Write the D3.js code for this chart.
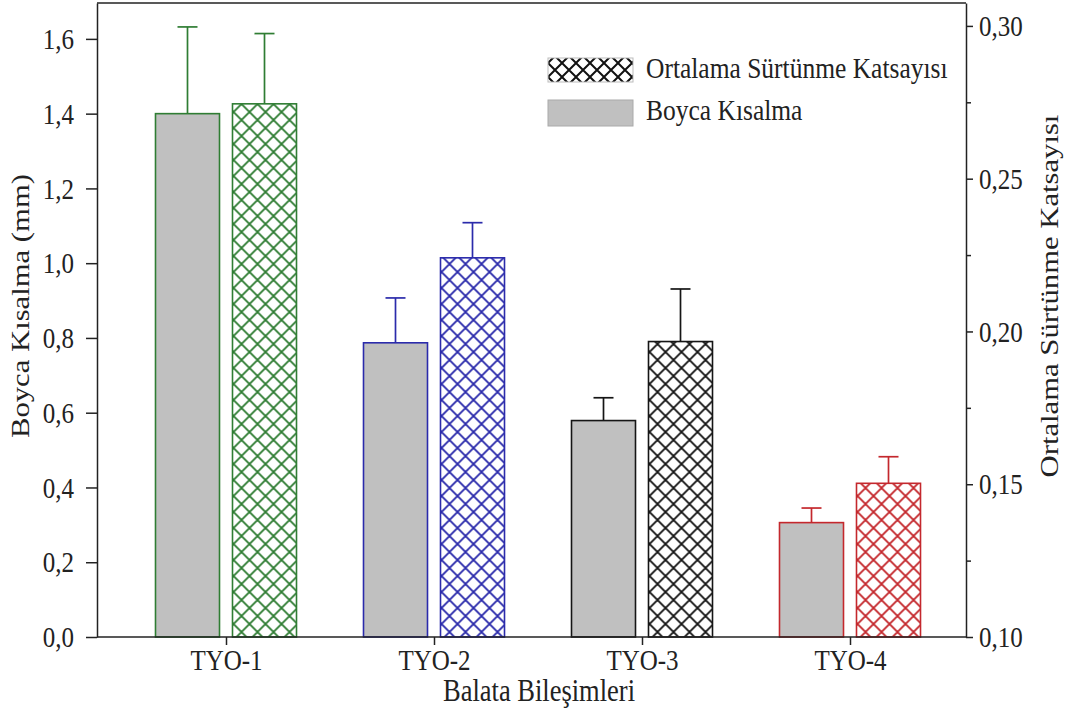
<!DOCTYPE html>
<html><head><meta charset="utf-8">
<script src="https://cdn.jsdelivr.net/npm/d3@7"></script>
<style>body{margin:0;background:#fff}svg{display:block}text{font-family:"Liberation Serif","Times New Roman",serif;fill:#222}</style>
</head><body><svg id="c" width="1067" height="716"></svg>
<script>
const categories = ["TYO-1","TYO-2","TYO-3","TYO-4"];
const shrinkage = [1.40, 0.787, 0.579, 0.306];
const shrinkageErr = [0.232, 0.12, 0.061, 0.039];
const friction = [0.2745, 0.2241, 0.1967, 0.1503];
const frictionErr = [0.023, 0.0115, 0.0172, 0.0087];
const colors = ["#2f7d33","#2b2bab","#151515","#c4282d"];
const leftTicks = [0,0.2,0.4,0.6,0.8,1.0,1.2,1.4,1.6];
const rightTicks = [0.10,0.15,0.20,0.25,0.30];
const rightMinor = [0.125,0.175,0.225,0.275];
const legendLabels = ["Ortalama Sürtünme Katsayısı","Boyca Kısalma"];

const W=1067,H=716,m={l:97,r:101,t:3,b:79};
const iw=W-m.l-m.r, ih=H-m.t-m.b;
const S=1.18; // vertical stretch of the original picture's lettering
const svg=d3.select("#c");
const defs=svg.append("defs");
const g=svg.append("g").attr("transform",`translate(${m.l},${m.t})`);

const x=d3.scalePoint().domain(categories).range([129,753]);
const yL=d3.scaleLinear().domain([0,1.696]).range([ih,0]);
const yR=d3.scaleLinear().domain([0.10,0.3075]).range([ih,0]);
const comma=f=>d=>d3.format(f)(d).replace(".",",");
const bw=64, gap=6.5, capW=20;

function hatch(id,color,period,ox,oy){
  const p=defs.append("pattern").attr("id",id).attr("patternUnits","userSpaceOnUse")
    .attr("width",period).attr("height",period).attr("x",ox).attr("y",oy);
  p.append("rect").attr("width",period).attr("height",period).attr("fill","#fff");
  p.append("path").attr("d",`M0,0L${period},${period}M${period},0L0,${period}`)
    .attr("stroke",color).attr("stroke-width",1.9).attr("fill","none");
}

categories.forEach((c,i)=>{
  const cx=x(c), col=colors[i];
  const gx=cx-gap-bw, gy=yL(shrinkage[i]);
  const eTop=yL(shrinkage[i]+shrinkageErr[i]);
  g.append("line").attr("x1",gx+bw/2).attr("x2",gx+bw/2).attr("y1",gy).attr("y2",eTop).attr("stroke",col).attr("stroke-width",1.7);
  g.append("line").attr("x1",gx+bw/2-capW/2).attr("x2",gx+bw/2+capW/2).attr("y1",eTop).attr("y2",eTop).attr("stroke",col).attr("stroke-width",1.7);
  g.append("rect").attr("x",gx).attr("y",gy).attr("width",bw).attr("height",ih-gy)
    .attr("fill","#c0c0c0").attr("stroke",col).attr("stroke-width",1.6);
  const hx=cx+gap, hy=yR(friction[i]);
  const hTop=yR(friction[i]+frictionErr[i]);
  hatch("h"+i,col,16,m.l+hx,m.t+ih);
  g.append("line").attr("x1",hx+bw/2).attr("x2",hx+bw/2).attr("y1",hy).attr("y2",hTop).attr("stroke",col).attr("stroke-width",1.7);
  g.append("line").attr("x1",hx+bw/2-capW/2).attr("x2",hx+bw/2+capW/2).attr("y1",hTop).attr("y2",hTop).attr("stroke",col).attr("stroke-width",1.7);
  g.append("rect").attr("x",hx).attr("y",hy).attr("width",bw).attr("height",ih-hy)
    .attr("fill",`url(#h${i})`).attr("stroke",col).attr("stroke-width",1.6);
});

const ax=(sel)=>{sel.selectAll("path,line").attr("stroke","#222").attr("stroke-width",1.5);
  sel.selectAll("text").attr("font-size",25).attr("fill","#222").attr("font-family","Liberation Serif");};
g.append("g").call(d3.axisLeft(yL).tickValues(leftTicks).tickFormat(comma(".1f")).tickSize(11).tickSizeOuter(0).tickPadding(12)).call(ax)
  .selectAll("text").attr("dy",null).attr("transform",`translate(0,${0.33*25*S}) scale(1,${S})`);
g.append("g").attr("transform",`translate(${iw},0)`).call(d3.axisRight(yR).tickValues(rightTicks).tickFormat(comma(".2f")).tickSize(7).tickSizeOuter(0).tickPadding(6)).call(ax)
  .selectAll("text").attr("dy",null).attr("transform",`translate(0,${0.33*25*S}) scale(1,${S})`);
g.append("g").attr("transform",`translate(${iw},0)`).call(d3.axisRight(yR).tickValues(rightMinor).tickFormat("").tickSize(5).tickSizeOuter(0)).call(ax).select(".domain").remove();
const xa=g.append("g").attr("transform",`translate(0,${ih})`).call(d3.axisBottom(x).tickSize(8).tickSizeOuter(0)).call(ax);
xa.select(".domain").attr("d",`M0,0H${iw}`);
xa.selectAll("text").attr("y",0).attr("dy",null).attr("transform",`translate(0,33) scale(1,${S})`);
g.append("line").attr("x1",0).attr("x2",iw).attr("y1",0).attr("y2",0).attr("stroke","#222").attr("stroke-width",1.5);

// titles
svg.append("text").attr("transform",`translate(29,306) scale(1,${S}) rotate(-90)`).attr("text-anchor","middle").attr("font-size",26).text("Boyca Kısalma (mm)");
svg.append("text").attr("transform",`translate(1058,296) scale(1,${S}) rotate(-90)`).attr("text-anchor","middle").attr("font-size",26).text("Ortalama Sürtünme Katsayısı");
svg.append("text").attr("transform",`translate(539,701) scale(1,${S})`).attr("text-anchor","middle").attr("font-size",26.5).text("Balata Bileşimleri");

// legend
const lx=548, ly=[58,100];
defs.append("pattern").attr("id","lh").attr("patternUnits","userSpaceOnUse").attr("width",14).attr("height",14).attr("x",lx).attr("y",ly[0]+5)
  .call(p=>{p.append("rect").attr("width",14).attr("height",14).attr("fill","#fff");
    p.append("path").attr("d","M0,0L14,14M14,0L0,14").attr("stroke","#111").attr("stroke-width",2);});
svg.append("rect").attr("x",lx).attr("y",ly[0]).attr("width",85).attr("height",24).attr("fill","url(#lh)").attr("stroke","#bbb");
svg.append("rect").attr("x",lx).attr("y",ly[1]).attr("width",85).attr("height",26).attr("fill","#c0c0c0").attr("stroke","#aaa");
legendLabels.forEach((t,i)=>svg.append("text").attr("transform",`translate(646,${ly[i]+20}) scale(1,${S})`).attr("font-size",25.5).text(t));
</script></body></html>
